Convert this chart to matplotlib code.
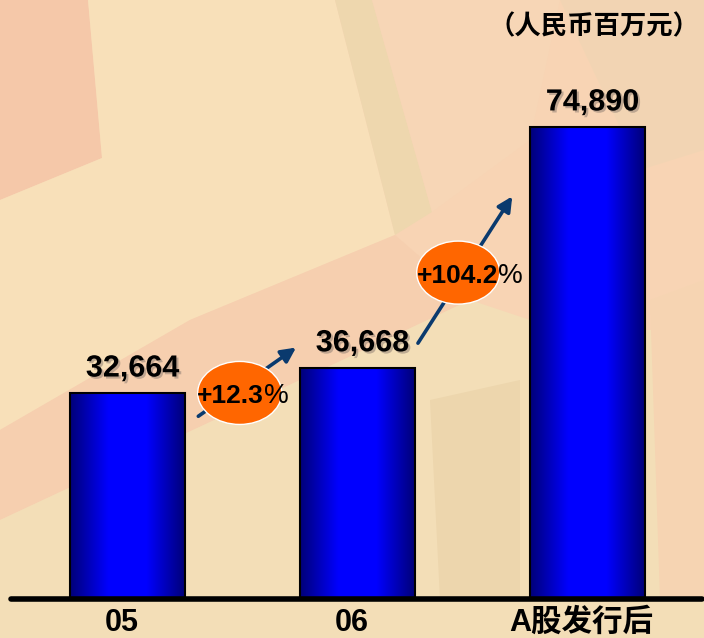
import matplotlib
matplotlib.use("Agg")
import matplotlib.pyplot as plt
import matplotlib.patheffects as pe
from matplotlib.colors import LinearSegmentedColormap
from matplotlib.patches import Ellipse, Polygon
import numpy as np

plt.rcParams['font.family'] = ['Liberation Sans', 'Noto Sans CJK SC', 'DejaVu Sans']

categories = ["05", "06", "A股发行后"]
values = [32664, 36668, 74890]
unit_label = "（人民币百万元）"

W, H = 704, 638
fig = plt.figure(figsize=(W / 100, H / 100), dpi=100)

# --- decorative background (pixel coords) ---
bg = fig.add_axes([0, 0, 1, 1])
bg.set_xlim(0, W)
bg.set_ylim(H, 0)
bg.axis("off")
bg.add_patch(Polygon([(0, 0), (W, 0), (W, H), (0, H)], color="#F8D4B4", lw=0))
shapes = [
    ([(0, 0), (88, 0), (102, 158), (0, 200)], "#F5C8A9"),
    ([(88, 0), (335, 0), (395, 235), (190, 320), (0, 430), (0, 200), (102, 158)], "#F8E0B9"),
    ([(335, 0), (372, 0), (432, 212), (395, 235)], "#EED7AE"),
    ([(372, 0), (560, 0), (530, 140), (432, 212)], "#F7D6B6"),
    ([(560, 0), (W, 0), (W, 150), (640, 170)], "#F2D4B3"),
    ([(0, 430), (190, 320), (395, 235), (470, 300), (300, 380), (0, 520)], "#F6CFAF"),
    ([(0, 520), (300, 380), (470, 300), (560, 330), (W, 330), (W, H), (0, H)], "#F3DEB7"),
    ([(430, 400), (520, 380), (520, 600), (440, 600)], "#EDD6AD"),
    ([(650, 300), (W, 280), (W, 600), (660, 600)], "#F6D4B2"),
]
for pts, c in shapes:
    bg.add_patch(Polygon(pts, closed=True, color=c, lw=0))

# --- chart axes ---
ax = fig.add_axes([0, 0, 1, 1])
ax.patch.set_alpha(0)
ax.axis("off")
px_per_cat = 230.0
x0_px = 127.0
base_px = 599.0
val_per_px = 158.7

x = np.arange(len(categories))
bar_w = 0.5
cmap = LinearSegmentedColormap.from_list("bar", ["#000078", "#0000FF", "#0000FF", "#000078"],
                                         N=256)
grad = np.linspace(0, 1, 256).reshape(1, -1)
bars = ax.bar(x, values, width=bar_w, facecolor="none", edgecolor="black", lw=1.5, zorder=3)
for b in bars:
    im = ax.imshow(grad, cmap=cmap, aspect="auto", zorder=2,
                   extent=[b.get_x(), b.get_x() + b.get_width(), 0, b.get_height()])
    im.set_clip_path(b)

ax.set_xlim(-x0_px / px_per_cat, (W - x0_px) / px_per_cat)
ax.set_ylim(-(H - base_px) * val_per_px, base_px * val_per_px)

# baseline
ax.plot([-0.503, 2.5], [0, 0], color="black", lw=4, solid_capstyle="round", zorder=4)

shadow = [pe.withSimplePatchShadow(offset=(1.5, -1.5), shadow_rgbFace="#8a7a70", alpha=0.5)]
for xi, v, lab in zip(x, values, categories):
    ax.annotate(f"{v:,}", (xi, v), xytext=(4, 12), textcoords="offset points",
                ha="center", va="baseline", fontsize=22, fontweight="bold",
                path_effects=shadow, zorder=6)
    ax.annotate(lab, (xi, 0), xytext=(-4, -23), textcoords="offset points",
                ha="center", va="baseline", fontsize=22, fontweight="bold", zorder=6)

# growth arrows and ellipses
arrow_geom = [((0.31, 29000), (0.735, 39900)), ((1.265, 40600), (1.675, 63900))]
ell_geom = [((0.49, 32700), 84, 63), ((1.44, 51800), 83, 63)]
split_dx = [0.105, 0.175]
for i in range(len(values) - 1):
    g = values[i + 1] / values[i] - 1
    (sx, sy), (ex, ey) = arrow_geom[i]
    ax.annotate("", xy=(ex, ey), xytext=(sx, sy),
                arrowprops=dict(arrowstyle="-|>", mutation_scale=22, lw=2.6,
                                color="#0A3A6E", shrinkA=0, shrinkB=0), zorder=7)
    (cx, cy), ew, eh = ell_geom[i]
    ax.add_patch(Ellipse((cx, cy), ew / px_per_cat, eh * val_per_px,
                         facecolor="#FF6600", edgecolor="white", lw=1, zorder=8))
    ax.text(cx + split_dx[i], cy - 500, f"+{g * 100:.1f}", ha="right", va="center",
            fontsize=19, fontweight="bold", zorder=9)
    ax.text(cx + split_dx[i], cy - 500, "%", ha="left", va="center",
            fontsize=20, fontweight="normal", zorder=9)

fig.text(700 / W, 1 - 27 / H, unit_label, ha="right", va="center",
         fontsize=19, fontweight="bold", family=['Noto Sans CJK SC', 'DejaVu Sans'])

fig.savefig("out.png", dpi=100)
